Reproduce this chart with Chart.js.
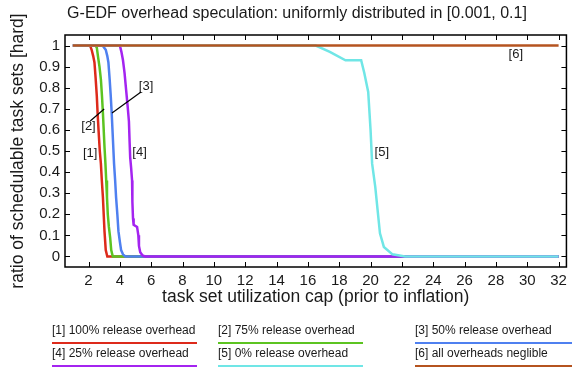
<!DOCTYPE html>
<html><head><meta charset="utf-8">
<script src="https://cdn.jsdelivr.net/npm/chart.js@4/dist/chart.umd.min.js"></script>
<style>html,body{margin:0;padding:0;background:#fff}</style>
</head><body>
<canvas id="c" width="572" height="374"></canvas>
<script>
const titleText = "G-EDF overhead speculation: uniformly distributed in [0.001, 0.1]";
const xTitle = "task set utilization cap (prior to inflation)";
const yTitle = "ratio of schedulable task sets [hard]";
const xTicks = [2,4,6,8,10,12,14,16,18,20,22,24,26,28,30,32];
const yTicks = [0,0.1,0.2,0.3,0.4,0.5,0.6,0.7,0.8,0.9,1];
const yTickLabels = ["0","0.1","0.2","0.3","0.4","0.5","0.6","0.7","0.8","0.9","1"];
const seriesTags = ["[1]","[2]","[3]","[4]","[5]","[6]"];
const seriesNames = ["100% release overhead","75% release overhead","50% release overhead","25% release overhead","0% release overhead","all overheads neglible"];

const x1 = [1, 2.1, 2.2, 2.3, 2.38, 2.45, 2.53, 2.58, 2.64, 2.72, 2.79, 2.85, 2.92, 2.97, 3.02, 3.1, 3.2, 32];
const y1 = [1, 1, 0.98, 0.95, 0.92, 0.85, 0.76, 0.68, 0.6, 0.5, 0.44, 0.36, 0.28, 0.2, 0.12, 0.03, 0, 0];
const x2 = [1, 2.45, 2.53, 2.62, 2.7, 2.79, 2.86, 2.92, 2.97, 3.02, 3.08, 3.13, 3.18, 3.23, 3.3, 3.38, 3.45, 3.55, 32];
const y2 = [1, 1, 0.99, 0.94, 0.9, 0.84, 0.76, 0.68, 0.6, 0.52, 0.44, 0.36, 0.28, 0.2, 0.14, 0.09, 0.03, 0, 0];
const x3 = [1, 2.9, 3.0, 3.1, 3.2, 3.27, 3.35, 3.42, 3.48, 3.53, 3.58, 3.63, 3.7, 3.76, 3.84, 3.91, 4.0, 4.08, 4.2, 4.35, 32];
const y3 = [1, 1, 0.99, 0.98, 0.95, 0.92, 0.84, 0.76, 0.68, 0.6, 0.52, 0.44, 0.36, 0.28, 0.2, 0.12, 0.07, 0.03, 0.01, 0, 0];
const x4 = [1, 4.0, 4.1, 4.2, 4.3, 4.4, 4.5, 4.58, 4.62, 4.66, 4.72, 4.78, 4.8, 4.84, 4.88, 5.1, 5.18, 5.22, 5.3, 5.45, 5.6, 32];
const y4 = [1, 1, 0.97, 0.93, 0.87, 0.79, 0.71, 0.64, 0.55, 0.47, 0.42, 0.36, 0.26, 0.18, 0.15, 0.14, 0.1, 0.05, 0.02, 0.005, 0, 0];
const x5 = [1, 16.5, 17.4, 18.4, 19.4, 19.6, 19.85, 20.0, 20.1, 20.3, 20.45, 20.6, 20.85, 21.4, 22.2, 32];
const y5 = [1, 1, 0.97, 0.93, 0.93, 0.87, 0.78, 0.6, 0.44, 0.33, 0.22, 0.11, 0.045, 0.01, 0, 0];
const x6 = [1, 32];
const y6 = [1, 1];

const seriesX = [x1,x2,x3,x4,x5,x6];
const seriesY = [y1,y2,y3,y4,y5,y6];
const colors = ['#dd2a1b','#5cc421','#4f80f0','#a424f0','#70e6e6','#b5531f'];

// annotation placement (data coordinates)
const tagPos = [[2.11,0.49],[2.0,0.615],[5.67,0.808],[5.26,0.491],[20.72,0.491],[29.27,0.96]];
const leaders = [[2.11,0.642,3.0,0.699],[3.5,0.68,5.35,0.78]];
const legendCols = [52,218,415];
const legendLen = [145,145,157];
const legendRows = [331,354];

const FONT = '"Liberation Sans", Arial, Helvetica, sans-serif';
const TXT = '#1a1a1a';

const decor = {
  id:'decor',
  afterDatasetsDraw(chart){
    const {ctx, chartArea:a, scales:{x,y}} = chart;
    ctx.save();
    ctx.font = '13px ' + FONT;
    ctx.fillStyle = TXT; ctx.textAlign='center'; ctx.textBaseline='middle';
    tagPos.forEach((p,i)=>ctx.fillText(seriesTags[i], x.getPixelForValue(p[0]), y.getPixelForValue(p[1])));
    ctx.strokeStyle='#000'; ctx.lineWidth=1.2;
    leaders.forEach(l=>{ctx.beginPath();ctx.moveTo(x.getPixelForValue(l[0]),y.getPixelForValue(l[1]));ctx.lineTo(x.getPixelForValue(l[2]),y.getPixelForValue(l[3]));ctx.stroke();});
    ctx.lineWidth=1.5; ctx.strokeStyle='#000';
    ctx.strokeRect(a.left,a.top,a.right-a.left,a.bottom-a.top);
    const tl=5;
    ctx.lineWidth=1;
    ctx.beginPath();
    x.ticks.forEach(t=>{const px=Math.round(x.getPixelForValue(t.value))+0.5;ctx.moveTo(px,a.bottom);ctx.lineTo(px,a.bottom-tl);ctx.moveTo(px,a.top);ctx.lineTo(px,a.top+tl);});
    y.ticks.forEach(t=>{const py=Math.round(y.getPixelForValue(t.value))+0.5;ctx.moveTo(a.left,py);ctx.lineTo(a.left+tl,py);ctx.moveTo(a.right,py);ctx.lineTo(a.right-tl,py);});
    ctx.stroke();
    ctx.restore();
  },
  afterDraw(chart){
    const ctx = chart.ctx;
    ctx.save();
    ctx.fillStyle = TXT;
    ctx.font = '16px ' + FONT;
    ctx.textAlign='center'; ctx.textBaseline='middle';
    ctx.fillText(titleText, 297, 14);
    ctx.font = '12px ' + FONT;
    ctx.textAlign='left';
    for(let i=0;i<6;i++){
      const c=i%3, r=Math.floor(i/3);
      const tx=legendCols[c], ty=legendRows[r];
      ctx.fillStyle=TXT;
      ctx.fillText(seriesTags[i]+' '+seriesNames[i], tx, ty);
      ctx.strokeStyle=colors[i]; ctx.lineWidth=2;
      ctx.beginPath(); ctx.moveTo(tx, ty+12); ctx.lineTo(tx+legendLen[c], ty+12); ctx.stroke();
    }
    ctx.restore();
  }
};

new Chart(document.getElementById('c'), {
  type:'line',
  data:{
    datasets: seriesX.map((xs,i)=>({
      label: seriesTags[i]+' '+seriesNames[i],
      data: xs.map((v,j)=>({x:v,y:seriesY[i][j]})),
      borderColor: colors[i],
      borderWidth: 2.5,
      pointRadius: 0,
      tension: 0,
      fill: false,
      order: 5-i
    }))
  },
  options:{
    responsive:false,
    animation:false,
    layout:{padding:{top:35,bottom:66,right:4,left:0}},
    plugins:{legend:{display:false},title:{display:false},tooltip:{enabled:false}},
    scales:{
      x:{
        type:'linear', min:0.5, max:32.5,
        afterBuildTicks:s=>{s.ticks = xTicks.map(v=>({value:v}));},
        afterFit:s=>{s.height=41;},
        grid:{display:false, drawTicks:false},
        border:{display:false},
        ticks:{padding:5, autoSkip:false, maxRotation:0, color:TXT, font:{family:FONT,size:15}, callback:v=>String(v)},
        title:{display:true, text:xTitle, color:TXT, font:{family:FONT,size:17.5}, padding:{top:0,bottom:0}}
      },
      y:{
        type:'linear', min:-0.05, max:1.05,
        afterBuildTicks:s=>{s.ticks = yTicks.map(v=>({value:v}));},
        afterFit:s=>{s.width=65;},
        grid:{display:false, drawTicks:false},
        border:{display:false},
        ticks:{padding:5, autoSkip:false, color:TXT, font:{family:FONT,size:15}, callback:(v,i)=>yTickLabels[i]},
        title:{display:true, text:yTitle, color:TXT, font:{family:FONT,size:17.5}, padding:{top:8,bottom:0}}
      }
    }
  },
  plugins:[decor]
});
</script>
</body></html>
